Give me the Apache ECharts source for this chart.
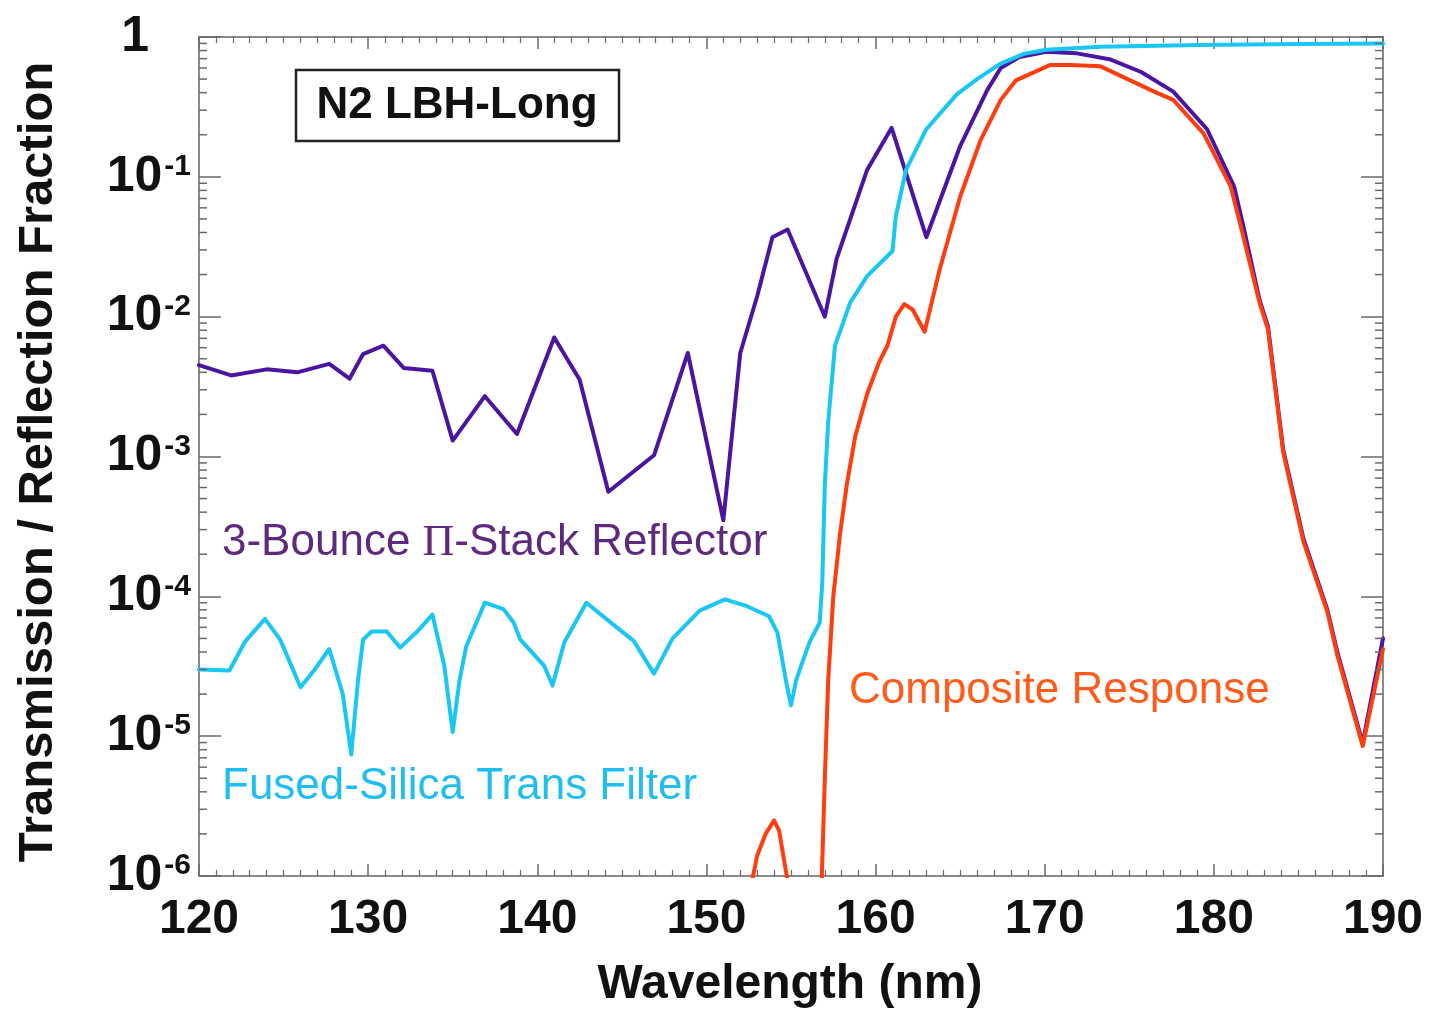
<!DOCTYPE html>
<html>
<head>
<meta charset="utf-8">
<script src="https://cdn.jsdelivr.net/npm/echarts@6/dist/echarts.min.js"></script>
<style>
html,body{margin:0;padding:0;background:#fff;}
#chart{width:1430px;height:1011px;}
</style>
</head>
<body>
<div id="chart"></div>
<script>
// ---- Data ----
const reflectorWl = [120.0,121.9,124.0,125.8,127.7,128.9,129.7,130.9,132.1,133.8,135.0,136.9,138.8,141.0,142.5,144.2,146.9,148.9,151.0,152.0,153.0,153.9,154.8,157.0,157.7,159.5,160.95,163.0,165.0,166.6,167.4,168.5,170.1,171.9,173.9,175.7,177.6,179.6,181.2,181.75,182.7,183.2,184.1,185.3,186.7,187.3,188.8,190.0];
const reflector   = [4.5e-3,3.8e-3,4.2e-3,4.0e-3,4.6e-3,3.6e-3,5.4e-3,6.2e-3,4.3e-3,4.1e-3,1.3e-3,2.7e-3,1.45e-3,7.1e-3,3.55e-3,5.6e-4,1.02e-3,5.5e-3,3.5e-4,5.5e-3,1.4e-2,3.7e-2,4.2e-2,1.0e-2,2.6e-2,0.112,0.224,3.7e-2,0.166,0.417,0.60,0.72,0.785,0.764,0.69,0.562,0.407,0.219,0.085,0.044,0.0132,0.0085,1.12e-3,2.57e-4,8.1e-5,4.0e-5,8.9e-6,5.0e-5];

const filterWl = [120.0,121.8,122.7,123.9,124.8,126.0,126.8,127.7,128.5,129.0,129.4,129.7,130.2,131.1,131.9,132.9,133.8,134.5,135.0,135.4,135.8,136.9,138.0,138.6,139.0,140.4,140.9,141.6,142.9,144.7,145.7,146.9,148.0,149.6,151.1,152.4,153.7,154.2,154.7,155.0,155.3,155.6,156.1,156.7,156.85,157.0,157.2,157.6,158.5,159.5,161.0,161.2,161.8,163.0,164.8,166.0,167.4,168.8,170.1,173.3,179.2,185.0,190.0];
const filter   = [3.0e-5,2.95e-5,4.7e-5,6.9e-5,4.9e-5,2.24e-5,2.95e-5,4.2e-5,2.0e-5,7.4e-6,2.5e-5,4.9e-5,5.6e-5,5.6e-5,4.3e-5,5.6e-5,7.4e-5,3.2e-5,1.07e-5,2.5e-5,4.4e-5,9.0e-5,8.1e-5,6.5e-5,4.9e-5,3.2e-5,2.3e-5,4.7e-5,9.0e-5,6.0e-5,4.8e-5,2.8e-5,5.0e-5,7.9e-5,9.5e-5,8.5e-5,7.2e-5,5.5e-5,2.5e-5,1.66e-5,2.5e-5,3.2e-5,4.7e-5,6.5e-5,1.26e-4,6.3e-4,1.78e-3,6.2e-3,0.0126,0.0195,0.0295,0.0525,0.112,0.219,0.389,0.50,0.646,0.76,0.81,0.853,0.877,0.89,0.90];

const compositeWl = [152.5,153.0,153.5,154.0,154.3,154.75,155.1,156.0,156.8,157.0,157.2,157.5,157.9,158.3,158.8,159.5,160.2,160.7,161.2,161.7,162.2,162.9,163.8,165.0,166.2,167.4,168.3,170.3,171.5,173.3,174.9,176.6,177.6,179.4,181.0,181.6,182.7,183.2,184.1,185.3,186.7,187.3,188.8,190.0];
const composite   = [7e-7,1.4e-6,2.0e-6,2.5e-6,2.1e-6,1.0e-6,5e-7,6.3e-7,8e-7,5.0e-6,2.5e-5,1.0e-4,2.8e-4,6.3e-4,1.4e-3,2.8e-3,4.7e-3,6.2e-3,0.010,0.0123,0.0112,7.8e-3,0.022,0.072,0.182,0.355,0.49,0.63,0.63,0.617,0.50,0.40,0.355,0.204,0.085,0.044,0.0126,8.1e-3,1.07e-3,2.45e-4,7.8e-5,3.8e-5,8.5e-6,4.2e-5];

const xTickValues = [120,130,140,150,160,170,180,190];
const yDecadeExponents = [-6,-5,-4,-3,-2,-1,0];
const yMinorMultipliers = [2,3,4,5,6,7,8,9];

// ---- Chart ----
const FONT = "'Liberation Sans', Arial, sans-serif";
const chart = echarts.init(document.getElementById('chart'), null, {renderer:'canvas'});

const minorTickData = [];
yDecadeExponents.slice(0, -1).forEach(e => {
  yMinorMultipliers.forEach(m => minorTickData.push(m * Math.pow(10, e)));
});

function tickSeries(xVal, dir) {
  return {
    type: 'custom', silent: true, clip: false, z: 5,
    data: minorTickData.map(v => [xVal, v]),
    renderItem: function (params, api) {
      const p = api.coord([api.value(0), api.value(1)]);
      return {type:'line', shape:{x1:p[0], y1:p[1], x2:p[0] + dir * 8, y2:p[1]},
              style:{stroke:'#6a6a6a', lineWidth:1.5}};
    }
  };
}

function yLabel(value) {
  const e = Math.round(Math.log10(value));
  if (yDecadeExponents.indexOf(e) < 0) return '';
  if (e === 0) return '{base|1}{pad|}';
  return '{base|10}{sup|' + e + '}';
}

const axisLineStyle = {color:'#8a8a8a', width:2};
const curveStyle = (c) => ({color:c, width:4, join:'round', cap:'round'});

const option = {
  animation: false,
  backgroundColor: '#ffffff',
  grid: {left:199, right:47, top:37, bottom:135, containLabel:false},
  xAxis: [{
    type:'value', min:120, max:190, interval:10, position:'bottom',
    axisLine:{show:true, onZero:false, lineStyle:axisLineStyle},
    axisTick:{show:true, inside:true, length:12, lineStyle:{color:'#6a6a6a', width:1.5}},
    minorTick:{show:true, splitNumber:10, length:6, lineStyle:{color:'#6a6a6a', width:1.2}},
    splitLine:{show:false},
    axisLabel:{show:true, margin:20, fontSize:48, fontWeight:'bold', color:'#111', fontFamily:FONT,
      formatter: v => xTickValues.indexOf(v) >= 0 ? String(v) : ''}
  },{
    type:'value', min:120, max:190, interval:10, position:'top',
    axisLine:{show:true, onZero:false, lineStyle:axisLineStyle},
    axisTick:{show:true, inside:true, length:12, lineStyle:{color:'#6a6a6a', width:1.5}},
    minorTick:{show:true, splitNumber:10, length:6, lineStyle:{color:'#6a6a6a', width:1.2}},
    splitLine:{show:false}, axisLabel:{show:false}
  }],
  yAxis: [{
    type:'log', logBase:10, min:1e-6, max:1, position:'left',
    axisLine:{show:true, onZero:false, lineStyle:axisLineStyle},
    axisTick:{show:true, inside:true, length:22, lineStyle:{color:'#6a6a6a', width:1.5}},
    splitLine:{show:false},
    axisLabel:{show:true, margin:8, formatter:yLabel, color:'#111',
      rich:{
        base:{fontSize:50, fontWeight:'bold', fontFamily:FONT, color:'#111', lineHeight:50},
        sup:{fontSize:30, fontWeight:'bold', fontFamily:FONT, color:'#111', verticalAlign:'top', lineHeight:30, padding:[0,0,0,2]},
        pad:{width:42}
      }}
  },{
    type:'log', logBase:10, min:1e-6, max:1, position:'right',
    axisLine:{show:true, onZero:false, lineStyle:axisLineStyle},
    axisTick:{show:true, inside:true, length:22, lineStyle:{color:'#6a6a6a', width:1.5}},
    splitLine:{show:false}, axisLabel:{show:false}
  }],
  series: [
    {name:'3-Bounce Π-Stack Reflector', type:'line', symbol:'none', smooth:false, clip:true,
     lineStyle:curveStyle('#4a15a0'), z:3,
     data: reflectorWl.map((w,i)=>[w, reflector[i]])},
    {name:'Fused-Silica Trans Filter', type:'line', symbol:'none', smooth:false, clip:true,
     lineStyle:curveStyle('#19c6f4'), z:3,
     data: filterWl.map((w,i)=>[w, filter[i]])},
    {name:'Composite Response', type:'line', symbol:'none', smooth:false, clip:true,
     lineStyle:curveStyle('#ff3d0f'), z:4,
     data: compositeWl.map((w,i)=>[w, composite[i]])},
    tickSeries(120, 1),
    tickSeries(190, -1)
  ],
  graphic: [
    {type:'rect', shape:{x:296, y:70, width:323, height:71},
     style:{fill:'#fff', stroke:'#222', lineWidth:2.5}, z:10},
    {type:'text', x:457, y:106, z:11,
     style:{text:'N2 LBH-Long', font:"bold 44px 'Liberation Sans', Arial, sans-serif",
            fill:'#111', align:'center', verticalAlign:'middle'}},
    {type:'text', x:222, y:543, z:11,
     style:{text:'{a|3-Bounce }{p|Π}{a|-Stack Reflector}', verticalAlign:'middle', align:'left',
            rich:{a:{fontSize:44, fontFamily:FONT, fill:'#5e2a7e'},
                  p:{fontSize:44, fontFamily:"'Liberation Serif', 'Times New Roman', serif", fill:'#5e2a7e'}}}},
    {type:'text', x:222, y:787, z:11,
     style:{text:'Fused-Silica Trans Filter', font:"44px 'Liberation Sans', Arial, sans-serif",
            fill:'#20bdf0', align:'left', verticalAlign:'middle'}},
    {type:'text', x:849, y:691, z:11,
     style:{text:'Composite Response', font:"44px 'Liberation Sans', Arial, sans-serif",
            fill:'#ff5b1a', align:'left', verticalAlign:'middle'}},
    {type:'text', x:790, y:985, z:11,
     style:{text:'Wavelength (nm)', font:"bold 48px 'Liberation Sans', Arial, sans-serif",
            fill:'#111', align:'center', verticalAlign:'middle'}},
    {type:'text', x:38, y:462, rotation:Math.PI/2, z:11,
     style:{text:'Transmission / Reflection Fraction', font:"bold 49px 'Liberation Sans', Arial, sans-serif",
            fill:'#111', align:'center', verticalAlign:'middle'}}
  ]
};
chart.setOption(option);
</script>
</body>
</html>
